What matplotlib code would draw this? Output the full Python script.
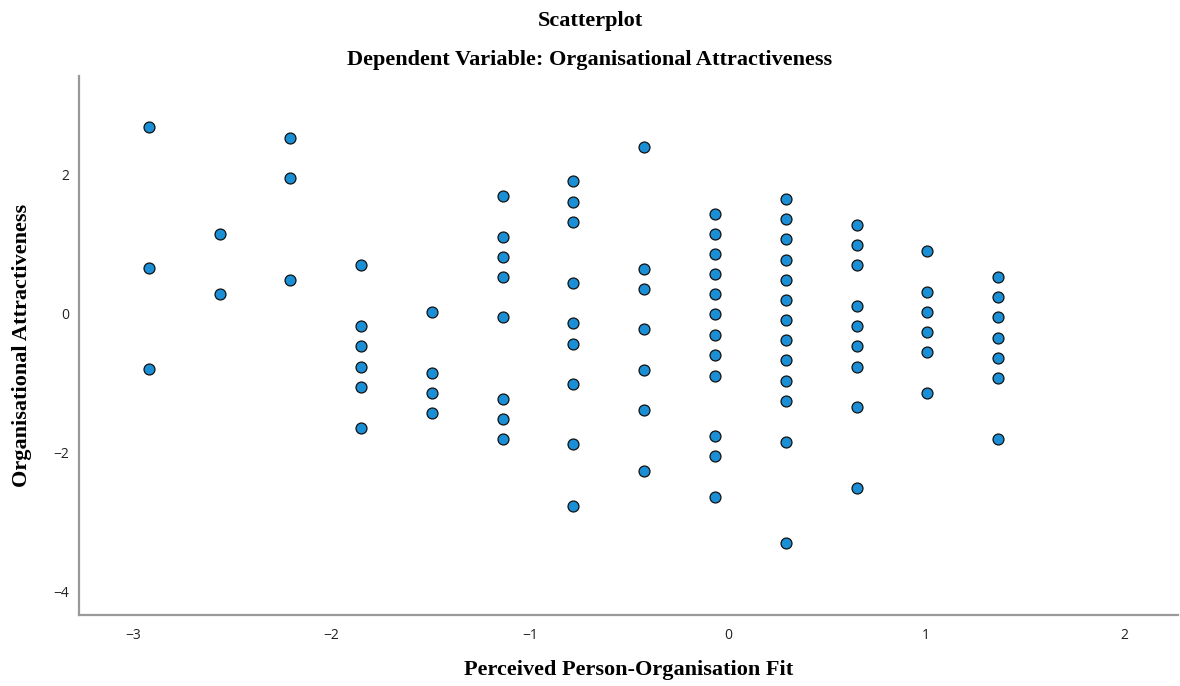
import matplotlib
matplotlib.use('Agg')
from matplotlib import pyplot as plt

# standardized predictor levels (x) and the residual values stacked at each one
fit_levels = [-2.92, -2.565, -2.21, -1.85, -1.495, -1.137, -0.78, -0.424,
              -0.066, 0.292, 0.650, 1.006, 1.364]

attract = [
    [2.68, 0.65, -0.81],
    [1.14, 0.27],
    [2.52, 1.94, 0.48],
    [0.69, -0.19, -0.48, -0.77, -1.06, -1.65],
    [0.02, -0.86, -1.15, -1.44],
    [1.68, 1.10, 0.81, 0.52, -0.06, -1.23, -1.52, -1.81],
    [1.90, 1.60, 1.31, 0.43, -0.14, -0.44, -1.02, -1.89, -2.77],
    [2.39, 0.64, 0.35, -0.23, -0.82, -1.40, -2.27],
    [1.43, 1.14, 0.85, 0.56, 0.27, -0.02, -0.32, -0.61, -0.90, -1.77, -2.06, -2.65],
    [1.64, 1.35, 1.06, 0.77, 0.48, 0.19, -0.10, -0.39, -0.68, -0.98, -1.27, -1.85, -3.31],
    [1.27, 0.98, 0.69, 0.10, -0.19, -0.48, -0.77, -1.35, -2.52],
    [0.89, 0.31, 0.02, -0.27, -0.56, -1.15],
    [0.52, 0.23, -0.06, -0.36, -0.65, -0.94, -1.81],
]

xs = []
ys = []
for lev, col in zip(fit_levels, attract):
    for v in col:
        xs.append(lev)
        ys.append(v)

fig = plt.figure(figsize=(11.8, 6.86), dpi=100)
ax = fig.add_axes([0.0667, 0.103, 0.9316, 0.786])

ax.scatter(xs, ys, s=62, c='#1b8fd6', edgecolors='#111111', linewidths=0.9, zorder=3)

ax.set_xlim(-3.276, 2.27)
ax.set_ylim(-4.35, 3.41)
ax.set_xticks([-3, -2, -1, 0, 1, 2])
ax.set_yticks([-4, -2, 0, 2])
ax.tick_params(axis='x', length=0, labelsize=10, colors='#222222', pad=9)
ax.tick_params(axis='y', length=0, labelsize=10, colors='#222222', pad=7)
for lab in ax.get_xticklabels() + ax.get_yticklabels():
    lab.set_fontfamily('Open Sans')

for side in ['top', 'right']:
    ax.spines[side].set_visible(False)
for side in ['left', 'bottom']:
    ax.spines[side].set_color('#999999')
    ax.spines[side].set_linewidth(1.6)

serif = 'Liberation Serif'
fig.text(0.5, 0.97, 'Scatterplot', ha='center', va='center',
         fontsize=16, fontweight='bold', family=serif)
fig.text(0.5, 0.912, 'Dependent Variable: Organisational Attractiveness', ha='center',
         va='center', fontsize=16, fontweight='bold', family=serif)
ax.set_xlabel('Perceived Person-Organisation Fit', fontsize=16, fontweight='bold',
              family=serif)
ax.set_ylabel('Organisational Attractiveness', fontsize=16, fontweight='bold',
              family=serif)
ax.xaxis.set_label_coords(0.5, -0.101)
ax.yaxis.set_label_coords(-0.0516, 0.5)
ax.xaxis.label.set_va('center')
ax.yaxis.label.set_va('center')

plt.savefig('out.png', dpi=100)
